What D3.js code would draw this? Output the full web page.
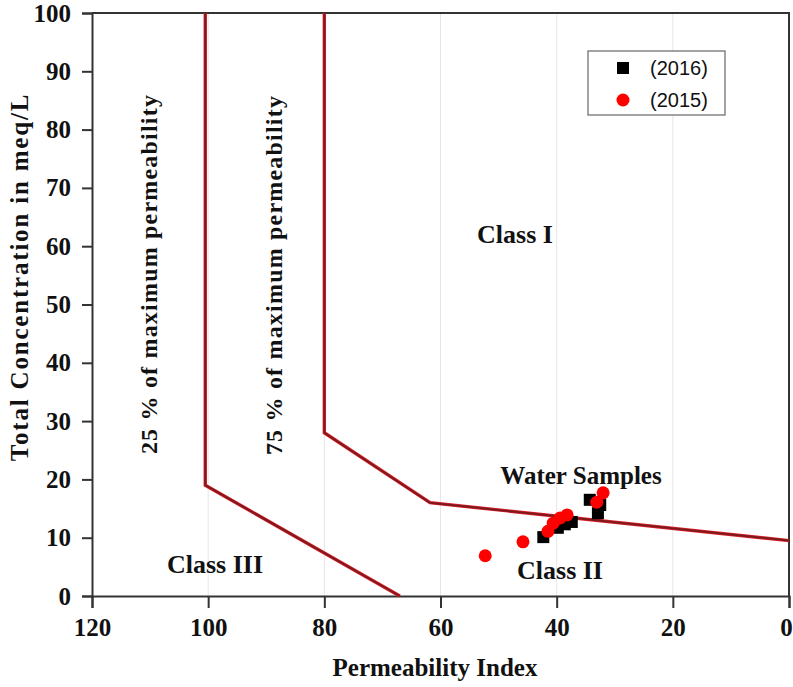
<!DOCTYPE html>
<html>
<head>
<meta charset="utf-8">
<script src="https://cdn.jsdelivr.net/npm/d3@7"></script>
<style>
  html, body { margin: 0; padding: 0; background: #fff; }
  svg { display: block; }
  .serif { font-family: "Liberation Serif", "Times New Roman", serif; font-weight: bold; fill: #111; }
</style>
</head>
<body>
<svg id="chart" width="793" height="687"></svg>
<script>
// Axis ticks
const xTicks = [120, 100, 80, 60, 40, 20, 0];
const yTicks = [0, 10, 20, 30, 40, 50, 60, 70, 80, 90, 100];

// Class boundary curves: [permeability index, total concentration]
const curve25 = [[100.5, 100], [100.5, 19], [67, 0]];
const curve75 = [[80, 100], [80, 28], [61.8, 16], [0, 9.5]];

// Water samples: permeability index and total concentration (meq/L)
const pi2016 = [42.3, 39.8, 38.6, 37.4, 34.3, 32.5, 32.9];
const tc2016 = [10.1, 11.7, 12.3, 12.7, 16.5, 15.6, 14.2];
const pi2015 = [52.3, 45.8, 41.5, 40.6, 39.4, 38.2, 33.1, 32.0];
const tc2015 = [6.9, 9.3, 11.1, 12.5, 13.4, 13.9, 16.1, 17.7];

const svg = d3.select("#chart");
const x = d3.scaleLinear().domain([120, 0]).range([92, 789]);
const y = d3.scaleLinear().domain([0, 100]).range([596, 13]);

// faint vertical grid
svg.append("g").selectAll("line").data(xTicks.slice(1, -1)).join("line")
  .attr("x1", d => x(d)).attr("x2", d => x(d))
  .attr("y1", y(100)).attr("y2", y(0))
  .attr("stroke", "#e6e6e6").attr("stroke-width", 1);

// frame top and right
svg.append("path")
  .attr("d", `M${x(120)},${y(100)}H${x(0)}V${y(0)}`)
  .attr("fill", "none").attr("stroke", "#333").attr("stroke-width", 2);

// axes
const xAxis = svg.append("g").attr("transform", `translate(0,${y(0)})`)
  .call(d3.axisBottom(x).tickValues(xTicks).tickSize(12).tickPadding(10).tickFormat(d3.format("d")));
const yAxis = svg.append("g").attr("transform", `translate(${x(120)},0)`)
  .call(d3.axisLeft(y).tickValues(yTicks).tickSize(10).tickPadding(11).tickFormat(d3.format("d")));
[xAxis, yAxis].forEach(g => {
  g.select(".domain").attr("stroke", "#333").attr("stroke-width", 2);
  g.selectAll(".tick line").attr("stroke", "#333").attr("stroke-width", 2);
  g.selectAll(".tick text").attr("class", "serif").style("font-size", "25px");
});
xAxis.selectAll(".tick text").filter(d => d === 0).attr("dx", "-3");

// boundary curves
const line = d3.line().x(d => x(d[0])).y(d => y(d[1]));
[curve25, curve75].forEach(c => {
  svg.append("path").datum(c).attr("d", line)
    .attr("fill", "none").attr("stroke", "#e0202a").attr("stroke-width", 3.4);
  svg.append("path").datum(c).attr("d", line)
    .attr("fill", "none").attr("stroke", "#7e1a1e").attr("stroke-width", 2);
});

// samples
const s2016 = pi2016.map((v, i) => [v, tc2016[i]]);
const s2015 = pi2015.map((v, i) => [v, tc2015[i]]);
svg.append("g").selectAll("rect").data(s2016).join("rect")
  .attr("x", d => x(d[0]) - 6).attr("y", d => y(d[1]) - 6)
  .attr("width", 12).attr("height", 12).attr("fill", "#000");
svg.append("g").selectAll("circle").data(s2015).join("circle")
  .attr("cx", d => x(d[0])).attr("cy", d => y(d[1])).attr("r", 6.5).attr("fill", "#f00");

// annotations
const ann = svg.append("g");
const label = (txt, tx, ty, size, rot, spacing) => ann.append("text").attr("class", "serif")
  .attr("transform", `translate(${tx},${ty})` + (rot ? " rotate(-90)" : ""))
  .attr("text-anchor", "middle").style("font-size", size + "px")
  .style("letter-spacing", (spacing || 0) + "px").text(txt);
label("Class I", 515, 243, 26);
label("Water Samples", 581, 484, 25);
label("Class II", 560, 579, 26);
label("Class III", 215, 573, 26);
label("25 % of maximum  permeability", 157, 274, 24, true, 1.2);
label("75 % of maximum  permeability", 282, 275, 24, true, 1.2);

// axis titles
svg.append("text").attr("class", "serif").attr("x", 435).attr("y", 676)
  .attr("text-anchor", "middle").style("font-size", "25px").text("Permeability Index");
svg.append("text").attr("class", "serif").attr("transform", "translate(28,277) rotate(-90)")
  .attr("text-anchor", "middle").style("font-size", "25px").style("letter-spacing", "1.8px")
  .text("Total Concentration in meq/L");

// legend
const lg = svg.append("g");
lg.append("rect").attr("x", 588).attr("y", 51).attr("width", 137).attr("height", 64)
  .attr("fill", "#fff").attr("stroke", "#666").attr("stroke-width", 1.2);
lg.append("rect").attr("x", 617).attr("y", 62).attr("width", 12).attr("height", 12).attr("fill", "#000");
lg.append("circle").attr("cx", 623).attr("cy", 100).attr("r", 6.5).attr("fill", "#f00");
lg.append("text").attr("x", 650).attr("y", 75).style("font-family", "'Liberation Sans', Arial, sans-serif")
  .style("font-size", "20px").attr("fill", "#111").text("(2016)");
lg.append("text").attr("x", 650).attr("y", 107).style("font-family", "'Liberation Sans', Arial, sans-serif")
  .style("font-size", "20px").attr("fill", "#111").text("(2015)");
</script>
</body>
</html>
